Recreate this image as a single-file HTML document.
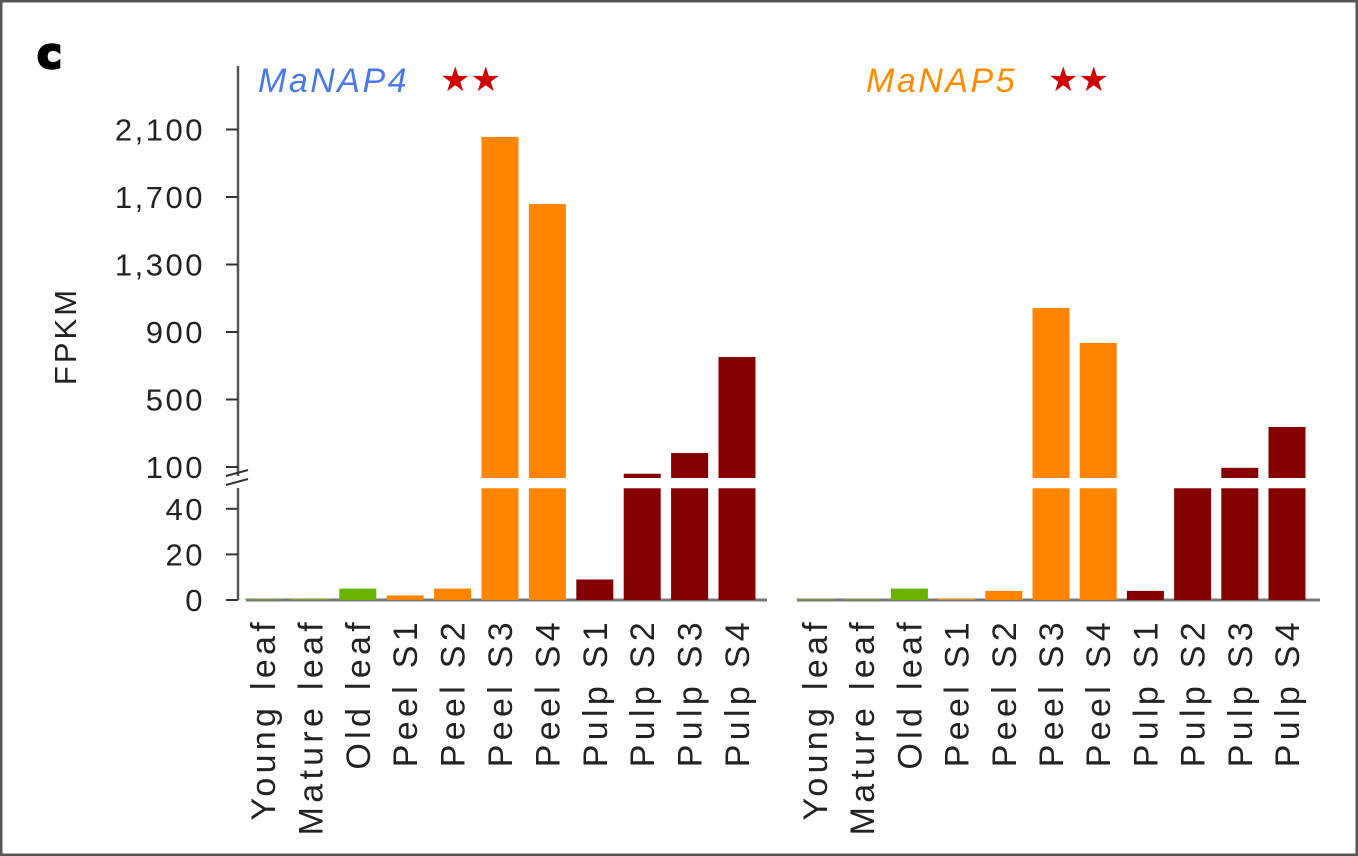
<!DOCTYPE html>
<html><head><meta charset="utf-8"><style>
html,body{margin:0;padding:0;background:#fff}
body{width:1358px;height:856px;overflow:hidden}
svg{display:block;font-family:"Liberation Sans",sans-serif}
</style></head><body>
<svg id="chart" width="1358" height="856">
<rect x="1" y="1" width="1356" height="854" fill="#fff" stroke="#555" stroke-width="3"/>
<text x="37" y="68" font-size="42" font-weight="bold" stroke="#000" stroke-width="2.5" font-family="DejaVu Sans, sans-serif">c</text>
<text transform="translate(76,336) rotate(-90)" text-anchor="middle" font-size="31" letter-spacing="3" fill="#222">FPKM</text>
<g id="g"></g>
</svg>
<script>
const categories=["Young leaf","Mature leaf","Old leaf","Peel S1","Peel S2","Peel S3","Peel S4","Pulp S1","Pulp S2","Pulp S3","Pulp S4"];
const manap4=[0.3,0.5,5,2,5,2056,1658,9,60,183,752];
const manap5=[0.3,0.3,5,0.5,4,1042,835,4,49,95,337];
const lowerTicks=[0,20,40];
const upperTicks=[100,500,900,1300,1700,2100];
const upperTickLabels=["100","500","900","1,300","1,700","2,100"];
const colors=["#7aa82c","#7aa82c","#66b300","#ff8500","#ff8500","#ff8500","#ff8500","#850000","#850000","#850000","#850000"];
const NS="http://www.w3.org/2000/svg";
const g=document.getElementById('g');
function mk(t,a,p){const e=document.createElementNS(NS,t);for(const k in a)e.setAttribute(k,a[k]);(p||g).appendChild(e);return e;}
function yLow(v){return 600-Math.min(v,49)*2.28;}
function yUp(v){return 467-(v-100)*67.5/400;}
let ax=mk('line',{x1:238,y1:66,x2:238,y2:600,stroke:'#555','stroke-width':2.5});

mk('rect',{x:224,y:476,width:20,height:12,fill:'#fff'});
mk('line',{x1:226,y1:476,x2:248,y2:470,stroke:'#333','stroke-width':2});
mk('line',{x1:226,y1:485,x2:248,y2:479,stroke:'#333','stroke-width':2});
function tick(y,label){
 mk('line',{x1:226,y1:y,x2:238,y2:y,stroke:'#333','stroke-width':2});
 const t=mk('text',{x:205,y:y+11,'text-anchor':'end','font-size':31,'letter-spacing':2.5,fill:'#222'});t.textContent=label;
 }
lowerTicks.forEach(v=>tick(yLow(v),v));
upperTicks.forEach((v,i)=>tick(yUp(v),upperTickLabels[i]));
function panel(vals,x0,x1,c0,step,title,tcol,tx,name){
 const base=mk('line',{x1:x0,y1:600,x2:x1,y2:600,stroke:'#777','stroke-width':3});
 
 const tt=mk('text',{x:tx,y:92,'font-size':34,'letter-spacing':2.5,'font-style':'italic',fill:tcol});tt.textContent=title;
 
 const st=mk('text',{x:tx+182,y:91,'font-size':34,fill:'#d00000','font-family':'DejaVu Sans, sans-serif'});st.textContent='★★';
 
 vals.forEach((v,i)=>{const cx=c0+i*step,w=37;
  const yl=yLow(v);
  const r=mk('rect',{x:cx-w/2,y:yl,width:w,height:Math.max(600-yl,0.8),fill:colors[i]});
  
  if(v>=50){const yu=yUp(v);if(yu<478){
   const r2=mk('rect',{x:cx-w/2,y:yu,width:w,height:478-yu,fill:colors[i]});
   }}
  const l=mk('text',{transform:`translate(${cx+12},618) rotate(-90)`,'text-anchor':'end','font-size':34,'letter-spacing':4.3,fill:'#222'});
  l.textContent=categories[i];
  
 });
}
panel(manap4,246,767,263,47.4,'MaNAP4','#4a78e6',258,'manap4');
panel(manap5,797,1320,815,47.2,'MaNAP5','#ff8c00',866,'manap5');
</script>
</body></html>
